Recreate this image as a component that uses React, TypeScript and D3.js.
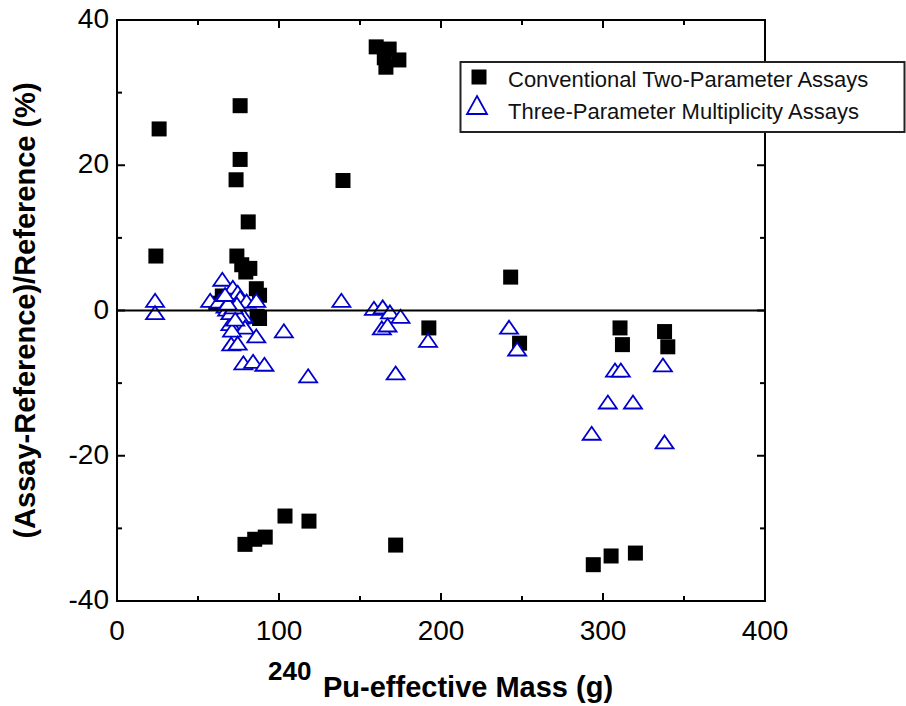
import React from 'react';
import * as d3 from 'd3';

const xTicks = [0, 100, 200, 300, 400];
const xMinorTicks = [50, 150, 250, 350];
const yTicks = [-40, -20, 0, 20, 40];
const yMinorTicks = [-30, -10, 10, 30];

const seriesNames = ['Conventional Two-Parameter Assays', 'Three-Parameter Multiplicity Assays'];
const xTitleSup = '240';
const xTitleMain = 'Pu-effective Mass (g)';
const yTitle = '(Assay-Reference)/Reference (%)';

// Conventional two-parameter assays (filled squares)
const twoParamMass = [26, 24, 76, 76, 73.5, 81, 74, 77, 79.5, 82, 86, 88, 86.5, 88, 61, 65,
  160, 168, 165, 174, 166, 139.5, 79, 85, 91.5, 103.7, 118.5, 172, 294, 305, 320,
  243, 192.5, 248.5, 310.5, 312, 338, 340];
const twoParamDiff = [25.0, 7.5, 28.2, 20.8, 18.0, 12.2, 7.5, 6.3, 5.3, 5.8, 3.0, 2.1, -0.8, -1.1, 1.0, 2.0,
  36.3, 36.0, 34.8, 34.5, 33.5, 17.9, -32.2, -31.5, -31.2, -28.3, -29.0, -32.3, -35.0, -33.8, -33.4,
  4.6, -2.4, -4.5, -2.4, -4.7, -2.9, -5.0];

// Three-parameter multiplicity assays (open triangles)
const threeParamMass = [23.5, 23.5, 57.5, 63, 65, 71.5, 74.5, 76, 67, 80, 86, 78, 76, 70, 79, 71,
  70.5, 74.5, 86, 78, 84, 91, 103, 68, 70, 72, 74, 73, 68.5, 66.7,
  138.5, 158.6, 164, 168.5, 175, 163.5, 167, 118, 172, 192, 242, 247,
  307.4, 311, 337, 303, 318.5, 293, 338];
const threeParamDiff = [1.4, -0.3, 1.4, 1.3, 4.3, 3.2, 2.5, 1.8, 0.6, 1.3, 1.4, -0.7, -0.9, -1.8, -2.3, -2.7,
  -4.6, -4.5, -3.5, -7.2, -7.0, -7.4, -2.8, 0.2, -0.3, 0.5, 0.9, -1.2, 1.0, 2.2,
  1.4, 0.3, 0.5, -0.2, -0.8, -2.4, -2.0, -9.0, -8.6, -4.1, -2.3, -5.3,
  -8.2, -8.2, -7.5, -12.6, -12.6, -16.9, -18.1];

const W = 906;
const H = 706;
const left = 117, right = 765, top = 20, bottom = 601;
const FONT = '"Liberation Sans", Arial, Helvetica, sans-serif';
const BLUE = '#0000cc';
const SQ = 15;
const TRI = 'M0,-6.5 L9,6.5 L-9,6.5 Z';

export default function App() {
  const x = d3.scaleLinear().domain([0, 400]).range([left, right]);
  const y = d3.scaleLinear().domain([-40, 40]).range([bottom, top]);
  const majorLen = 8, minorLen = 5;

  const squares = twoParamMass.map((m, i) => ({ m, d: twoParamDiff[i] }));
  const triangles = threeParamMass.map((m, i) => ({ m, d: threeParamDiff[i] }));

  return (
    <svg width={W} height={H} style={{ position: 'absolute', left: 0, top: 0, background: '#fff' }}
      fontFamily={FONT}>
      <rect x={0} y={0} width={W} height={H} fill="#fff" />
      {/* markers */}
      <g>
        {squares.map((p, i) => (
          <rect key={'s' + i} x={x(p.m) - SQ / 2} y={y(p.d) - SQ / 2} width={SQ} height={SQ} fill="#000" />
        ))}
      </g>
      <g>
        {triangles.map((p, i) => (
          <path key={'t' + i} d={TRI} transform={`translate(${x(p.m)},${y(p.d)})`}
            fill="#fff" stroke={BLUE} strokeWidth={1.8} strokeLinejoin="miter" />
        ))}
      </g>
      {/* zero line */}
      <line x1={left} x2={right} y1={y(0)} y2={y(0)} stroke="#000" strokeWidth={2} />
      {/* frame */}
      <rect x={left} y={top} width={right - left} height={bottom - top} fill="none" stroke="#000" strokeWidth={2} />
      {/* x ticks */}
      {xTicks.map((t) => (
        <g key={'xt' + t}>
          <line x1={x(t)} x2={x(t)} y1={bottom} y2={bottom - majorLen} stroke="#000" strokeWidth={2} />
          <line x1={x(t)} x2={x(t)} y1={top} y2={top + majorLen} stroke="#000" strokeWidth={2} />
          <text x={x(t)} y={640} textAnchor="middle" fontSize={28} fill="#000">{t}</text>
        </g>
      ))}
      {xMinorTicks.map((t) => (
        <g key={'xm' + t}>
          <line x1={x(t)} x2={x(t)} y1={bottom} y2={bottom - minorLen} stroke="#000" strokeWidth={2} />
          <line x1={x(t)} x2={x(t)} y1={top} y2={top + minorLen} stroke="#000" strokeWidth={2} />
        </g>
      ))}
      {/* y ticks */}
      {yTicks.map((t) => (
        <g key={'yt' + t}>
          <line x1={left} x2={left + majorLen} y1={y(t)} y2={y(t)} stroke="#000" strokeWidth={2} />
          <line x1={right} x2={right - majorLen} y1={y(t)} y2={y(t)} stroke="#000" strokeWidth={2} />
          <text x={109} y={y(t) + 8} textAnchor="end" fontSize={28} fill="#000">{t}</text>
        </g>
      ))}
      {yMinorTicks.map((t) => (
        <g key={'ym' + t}>
          <line x1={left} x2={left + minorLen} y1={y(t)} y2={y(t)} stroke="#000" strokeWidth={2} />
          <line x1={right} x2={right - minorLen} y1={y(t)} y2={y(t)} stroke="#000" strokeWidth={2} />
        </g>
      ))}
      {/* axis titles */}
      <text fontWeight="bold" fill="#000">
        <tspan x={268} y={680} fontSize={26}>{xTitleSup}</tspan>
        <tspan x={323} y={697} fontSize={29}>{xTitleMain}</tspan>
      </text>
      <text transform={`translate(35,${y(0)}) rotate(-90)`} textAnchor="middle" fontSize={29}
        fontWeight="bold" fill="#000">{yTitle}</text>
      {/* legend */}
      <g>
        <rect x={460.5} y={62} width={444} height={70} fill="#fff" stroke="#222" strokeWidth={2} />
        <rect x={479 - SQ / 2} y={77 - SQ / 2} width={SQ} height={SQ} fill="#000" />
        <path d="M0,-9 L10,9 L-10,9 Z" transform="translate(477,105)" fill="#fff" stroke={BLUE} strokeWidth={1.8} />
        <text x={508} y={87} fontSize={22} fill="#111">{seriesNames[0]}</text>
        <text x={508} y={119} fontSize={22} fill="#111">{seriesNames[1]}</text>
      </g>
    </svg>
  );
}
